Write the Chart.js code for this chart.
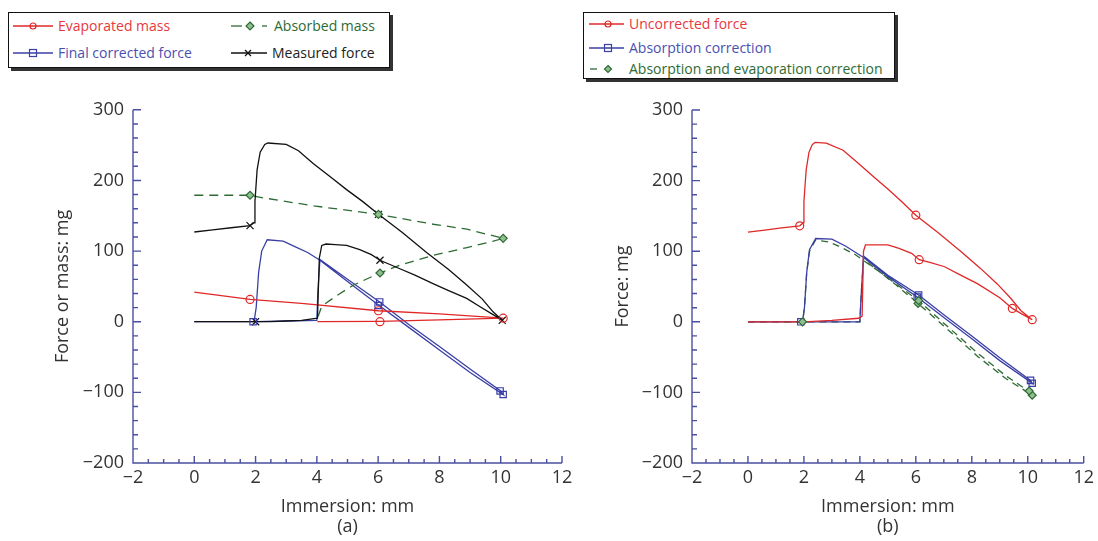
<!DOCTYPE html>
<html>
<head>
<meta charset="utf-8">
<script src="https://cdn.jsdelivr.net/npm/chart.js@4.4.1/dist/chart.umd.min.js"></script>
<style>
  body { margin: 0; background: #fff; width: 1098px; height: 541px; position: relative; overflow: hidden; font-family: "Open Sans", sans-serif; }
  canvas { position: absolute; }
  .box { position: absolute; border: 1px solid #111; box-shadow: 3px 3px 0 #333; background: #fff; }
  .item { position: absolute; font-size: 14px; line-height: 18px; white-space: nowrap; display: flex; align-items: center; }
  .item svg { margin-right: 3px; }
</style>
</head>
<body>

<!-- legend (a) -->
<div class="box" style="left:8px;top:12px;width:380px;height:54px;"></div>
<div class="item" style="left:11px;top:17px;color:#e8383d;">
  <svg width="44" height="14"><line x1="2" y1="7" x2="42" y2="7" stroke="#e02828" stroke-width="1.3"/><circle cx="22" cy="7" r="3" fill="none" stroke="#e02828" stroke-width="1.2"/></svg>Evaporated mass</div>
<div class="item" style="left:11px;top:44px;color:#4a50b0;">
  <svg width="44" height="14"><line x1="2" y1="7" x2="42" y2="7" stroke="#3a3fa6" stroke-width="1.3"/><rect x="18.5" y="3.5" width="7" height="7" fill="none" stroke="#3a3fa6" stroke-width="1.2"/></svg>Final corrected force</div>
<div class="item" style="left:229px;top:17px;color:#2e6b34;">
  <svg width="42" height="14"><line x1="2" y1="7" x2="13" y2="7" stroke="#2e6b34" stroke-width="1.3"/><polygon points="21,3 25,7 21,11 17,7" fill="#8fbf8f" stroke="#2e6b34" stroke-width="1.2"/><line x1="33" y1="7" x2="38" y2="7" stroke="#2e6b34" stroke-width="1.3"/></svg>Absorbed mass</div>
<div class="item" style="left:229px;top:44px;color:#222;">
  <svg width="40" height="14"><line x1="2" y1="7" x2="38" y2="7" stroke="#111" stroke-width="1.3"/><line x1="16" y1="4" x2="22" y2="10" stroke="#111" stroke-width="1.3"/><line x1="22" y1="4" x2="16" y2="10" stroke="#111" stroke-width="1.3"/></svg>Measured force</div>

<!-- legend (b) -->
<div class="box" style="left:583px;top:12px;width:310px;height:65px;"></div>
<div class="item" style="left:587px;top:15px;color:#e8383d;">
  <svg width="39" height="14"><line x1="2" y1="7" x2="37" y2="7" stroke="#e02828" stroke-width="1.3"/><circle cx="21" cy="7" r="3" fill="none" stroke="#e02828" stroke-width="1.2"/></svg>Uncorrected force</div>
<div class="item" style="left:587px;top:39px;color:#4a50b0;">
  <svg width="39" height="14"><line x1="2" y1="7" x2="37" y2="7" stroke="#3a3fa6" stroke-width="1.3"/><rect x="17.5" y="3.5" width="7" height="7" fill="none" stroke="#3a3fa6" stroke-width="1.2"/></svg>Absorption correction</div>
<div class="item" style="left:587px;top:60px;color:#2e6b34;">
  <svg width="39" height="14"><line x1="3" y1="7" x2="10" y2="7" stroke="#2e6b34" stroke-width="1.3"/><polygon points="21,3.5 24.5,7 21,10.5 17.5,7" fill="#8fbf8f" stroke="#2e6b34" stroke-width="1.2"/></svg>Absorption and evaporation correction</div>

<canvas id="chartA" width="585" height="451" style="left:0;top:90px;"></canvas>
<canvas id="chartB" width="538" height="451" style="left:560px;top:90px;"></canvas>

<script>
// ---------- (a) ----------
// measured force: upper branch 0 -> 10, then lower branch back to 0
const measuredX = [0, 0.6, 1.2, 1.82, 1.95, 1.98, 2.05, 2.15, 2.3, 2.4, 3.0, 3.4, 3.88, 4.5, 4.97, 5.5, 6.01, 6.8, 7.58, 8.3, 8.89, 9.4, 9.75, 10.05,
                   9.75, 9.3, 8.89, 8.3, 7.79, 7.2, 6.71, 6.06, 5.78, 5.4, 4.97, 4.6, 4.3, 4.16, 4.08, 4.02, 3.5, 3.0, 2.5, 2.0, 1.0, 0];
const measuredY = [127, 130, 133, 136, 140, 170, 215, 240, 251, 253, 251, 242, 224, 203, 187, 170, 152, 126, 98, 74, 52, 32, 14, 2,
                   10, 22, 33, 44, 54, 66, 75, 87, 95, 102, 108, 109, 110, 108, 90, 5, 2, 1, 0, 0, 0, 0];
const measuredMarkX = [1.82, 6.01, 10.05, 6.06, 2.0];
const measuredMarkY = [136, 152, 2, 87, 0];

const evapX = [0, 1.82, 3.5, 6.01, 8.0, 10.08, 8.0, 6.06, 4.02];
const evapY = [42, 31.5, 26, 15.5, 11, 5, 2.5, 0.5, 0];
const evapMarkX = [1.82, 6.01, 10.08, 6.06];
const evapMarkY = [31.5, 15.5, 5, 0];

const absorbedX = [0, 1.82, 2.3, 3.9, 6.01, 7.8, 8.9, 10.08, 9.76, 8.9, 7.8, 6.7, 6.06, 5.2, 4.65, 4.16, 4.02];
const absorbedY = [179, 179, 175, 164, 152, 138, 131, 118, 114, 105, 94, 80, 69, 52, 37, 22, 5];
const absorbedMarkX = [1.82, 6.01, 10.08, 6.06];
const absorbedMarkY = [179, 152, 118, 69];

const finalX = [0, 1.95, 2.02, 2.1, 2.2, 2.38, 2.9, 3.3, 3.7, 4.1, 5.0, 6.0, 7.0, 8.0, 9.0, 10.08,
                10.0, 9.0, 8.0, 7.0, 6.05, 5.0, 4.1, 4.03, 4.0, 3.0, 2.0];
const finalY = [0, 0, 20, 70, 100, 116, 114, 106, 98, 87, 57, 24, -8, -40, -72, -103,
                -98, -67, -35, -4, 28, 60, 88, 40, 2, 1, 0];
const finalMarkX = [1.92, 6.0, 6.05, 10.08, 9.98];
const finalMarkY = [0, 23, 28, -103, -98];

// ---------- (b) ----------
const uncorrX = [0, 0.6, 1.2, 1.85, 1.97, 2.0, 2.08, 2.18, 2.3, 2.4, 2.8, 3.4, 3.9, 4.5, 5.0, 5.5, 6.0, 6.8, 7.6, 8.3, 8.9, 9.4, 9.75, 10.16,
                 9.75, 9.45, 9.0, 8.2, 7.6, 7.03, 6.5, 6.12, 5.85, 5.4, 5.0, 4.5, 4.2, 4.13, 4.08, 3.96, 3.0, 2.0, 1.0, 0];
const uncorrY = [127, 130, 133, 136, 140, 170, 215, 240, 251, 254, 253, 243, 226, 205, 188, 170, 151, 126, 100, 76, 54, 33, 16, 3,
                 12, 19, 34, 54, 66, 78, 84, 88, 97, 104, 109, 109, 109, 100, 8, 5, 2, 0, 0, 0];
const uncorrMarkX = [1.85, 6.0, 10.16, 9.45, 6.12];
const uncorrMarkY = [136, 151, 3, 19, 88];

const absCorrX = [0, 1.95, 2.02, 2.1, 2.2, 2.42, 3.0, 3.5, 4.13, 5.0, 6.05, 7.0, 8.0, 9.0, 10.16,
                  10.1, 9.0, 8.0, 7.0, 6.1, 5.0, 4.13, 4.05, 4.0, 3.0, 2.0];
const absCorrY = [0, 0, 20, 70, 102, 118, 117, 107, 91, 64, 35, 6, -24, -55, -87,
                  -83, -51, -20, 10, 38, 66, 93, 40, 0, 0, 0];
const absCorrMarkX = [1.89, 6.05, 6.1, 10.16, 10.1];
const absCorrMarkY = [0, 35, 38, -87, -83];

const bothCorrX = [0, 1.95, 2.02, 2.1, 2.2, 2.42, 2.9, 3.3, 3.84, 4.66, 5.3, 6.08, 7.0, 8.21, 9.2, 10.16,
                   10.1, 9.2, 8.2, 7.0, 6.1, 5.0, 4.13, 4.05, 4.0, 3.0, 2.0];
const bothCorrY = [0, 0, 20, 70, 100, 116, 113, 106, 95, 72, 52, 26, -6, -49, -80, -104,
                   -100, -76, -44, -2, 30, 62, 88, 40, 0, 0, 0];
const bothCorrMarkX = [1.95, 6.08, 6.1, 10.16, 10.05];
const bothCorrMarkY = [0, 26, 30, -104, -98];

const xTicks = { min: -2, max: 12, step: 2, minor: 0.5 };
const yTicks = { min: -200, max: 300, step: 100, minor: 20 };

const RED = "#e02828", BLUE = "#3a3fa6", GREEN = "#2e6b34", BLACK = "#111", AXIS = "#4a4fa0";
const TEXT = "#333";
const FONT = "'Open Sans', sans-serif";

const pts = (xs, ys) => xs.map((x, i) => ({ x, y: ys[i] }));

const line = (xs, ys, color, order, dash) => ({
  data: pts(xs, ys), showLine: true, borderColor: color, borderWidth: 1.3,
  borderDash: dash || [], pointRadius: 0, tension: 0, fill: false, order
});

const marks = (xs, ys, color, style, r, fillColor) => ({
  data: pts(xs, ys), showLine: false, pointStyle: style, pointRadius: r,
  pointBorderColor: color, pointBackgroundColor: fillColor || "rgba(255,255,255,0)",
  pointBorderWidth: 1.2, order: 0
});

const fmt = v => (v < 0 ? "\u2212" + Math.abs(v) : String(v));

// inward axis ticks, like the original plot
const axisPlugin = {
  id: "axisTicks",
  beforeDatasetsDraw(chart) {
    const { ctx, scales: { x, y } } = chart;
    ctx.save();
    ctx.strokeStyle = AXIS;
    ctx.lineWidth = 1.4;
    ctx.beginPath();
    ctx.moveTo(x.left, y.top);
    ctx.lineTo(x.left, y.bottom);
    ctx.lineTo(x.right, y.bottom);
    for (let v = yTicks.min; v <= yTicks.max + 1e-6; v += yTicks.minor) {
      const p = y.getPixelForValue(v);
      const len = Math.abs(v % yTicks.step) < 1e-6 ? 8 : 5;
      ctx.moveTo(x.left, p);
      ctx.lineTo(x.left + len, p);
    }
    for (let v = xTicks.min; v <= xTicks.max + 1e-6; v += xTicks.minor) {
      const p = x.getPixelForValue(v);
      const len = Math.abs(v % xTicks.step) < 1e-6 ? 7 : 4;
      ctx.moveTo(p, y.bottom);
      ctx.lineTo(p, y.bottom - len);
    }
    ctx.stroke();
    ctx.restore();
  }
};

function makeChart(id, datasets, yTitle, xTitle, pad, yWidth) {
  return new Chart(document.getElementById(id), {
    type: "scatter",
    data: { datasets },
    options: {
      responsive: false,
      animation: false,
      layout: { padding: pad },
      plugins: { legend: { display: false }, tooltip: { enabled: false } },
      scales: {
        x: {
          type: "linear", min: xTicks.min, max: xTicks.max,
          ticks: { stepSize: xTicks.step, callback: fmt, color: TEXT, font: { family: FONT, size: 18 }, padding: 4, maxRotation: 0 },
          grid: { display: false, drawTicks: false },
          border: { display: false },
          title: { display: true, text: xTitle, color: TEXT, font: { family: FONT, size: 18, lineHeight: 1.1 }, padding: { top: 0, bottom: 4 } },
          afterFit(s) { s.height = 78; }
        },
        y: {
          type: "linear", min: yTicks.min, max: yTicks.max,
          ticks: { stepSize: yTicks.step, callback: fmt, color: TEXT, font: { family: FONT, size: 18 }, padding: 9 },
          grid: { display: false, drawTicks: false },
          border: { display: false },
          title: { display: true, text: yTitle, color: TEXT, font: { family: FONT, size: 18 }, padding: { top: 52, bottom: 0 } },
          afterFit(s) { s.width = yWidth; }
        }
      }
    },
    plugins: [axisPlugin]
  });
}

makeChart("chartA", [
  line(finalX, finalY, BLUE, 5),
  line(absorbedX, absorbedY, GREEN, 4, [9, 6]),
  line(evapX, evapY, RED, 3),
  line(measuredX, measuredY, BLACK, 2),
  marks(finalMarkX, finalMarkY, BLUE, "rect", 4.5),
  marks(absorbedMarkX, absorbedMarkY, GREEN, "rectRot", 4, "#8fbf8f"),
  marks(evapMarkX, evapMarkY, RED, "circle", 4),
  marks(measuredMarkX, measuredMarkY, BLACK, "crossRot", 5)
], "Force or mass: mg", ["Immersion: mm", "(a)"], { top: 16, right: 23, left: 0, bottom: 0 }, 133);

makeChart("chartB", [
  line(bothCorrX, bothCorrY, GREEN, 5, [7, 5]),
  line(absCorrX, absCorrY, BLUE, 4),
  line(uncorrX, uncorrY, RED, 3),
  marks(bothCorrMarkX, bothCorrMarkY, GREEN, "rectRot", 4, "#8fbf8f"),
  marks(absCorrMarkX, absCorrMarkY, BLUE, "rect", 4.5),
  marks(uncorrMarkX, uncorrMarkY, RED, "circle", 4)
], "Force: mg", ["Immersion: mm", "(b)"], { top: 20, right: 11, left: 0, bottom: 0 }, 132);
</script>
</body>
</html>
